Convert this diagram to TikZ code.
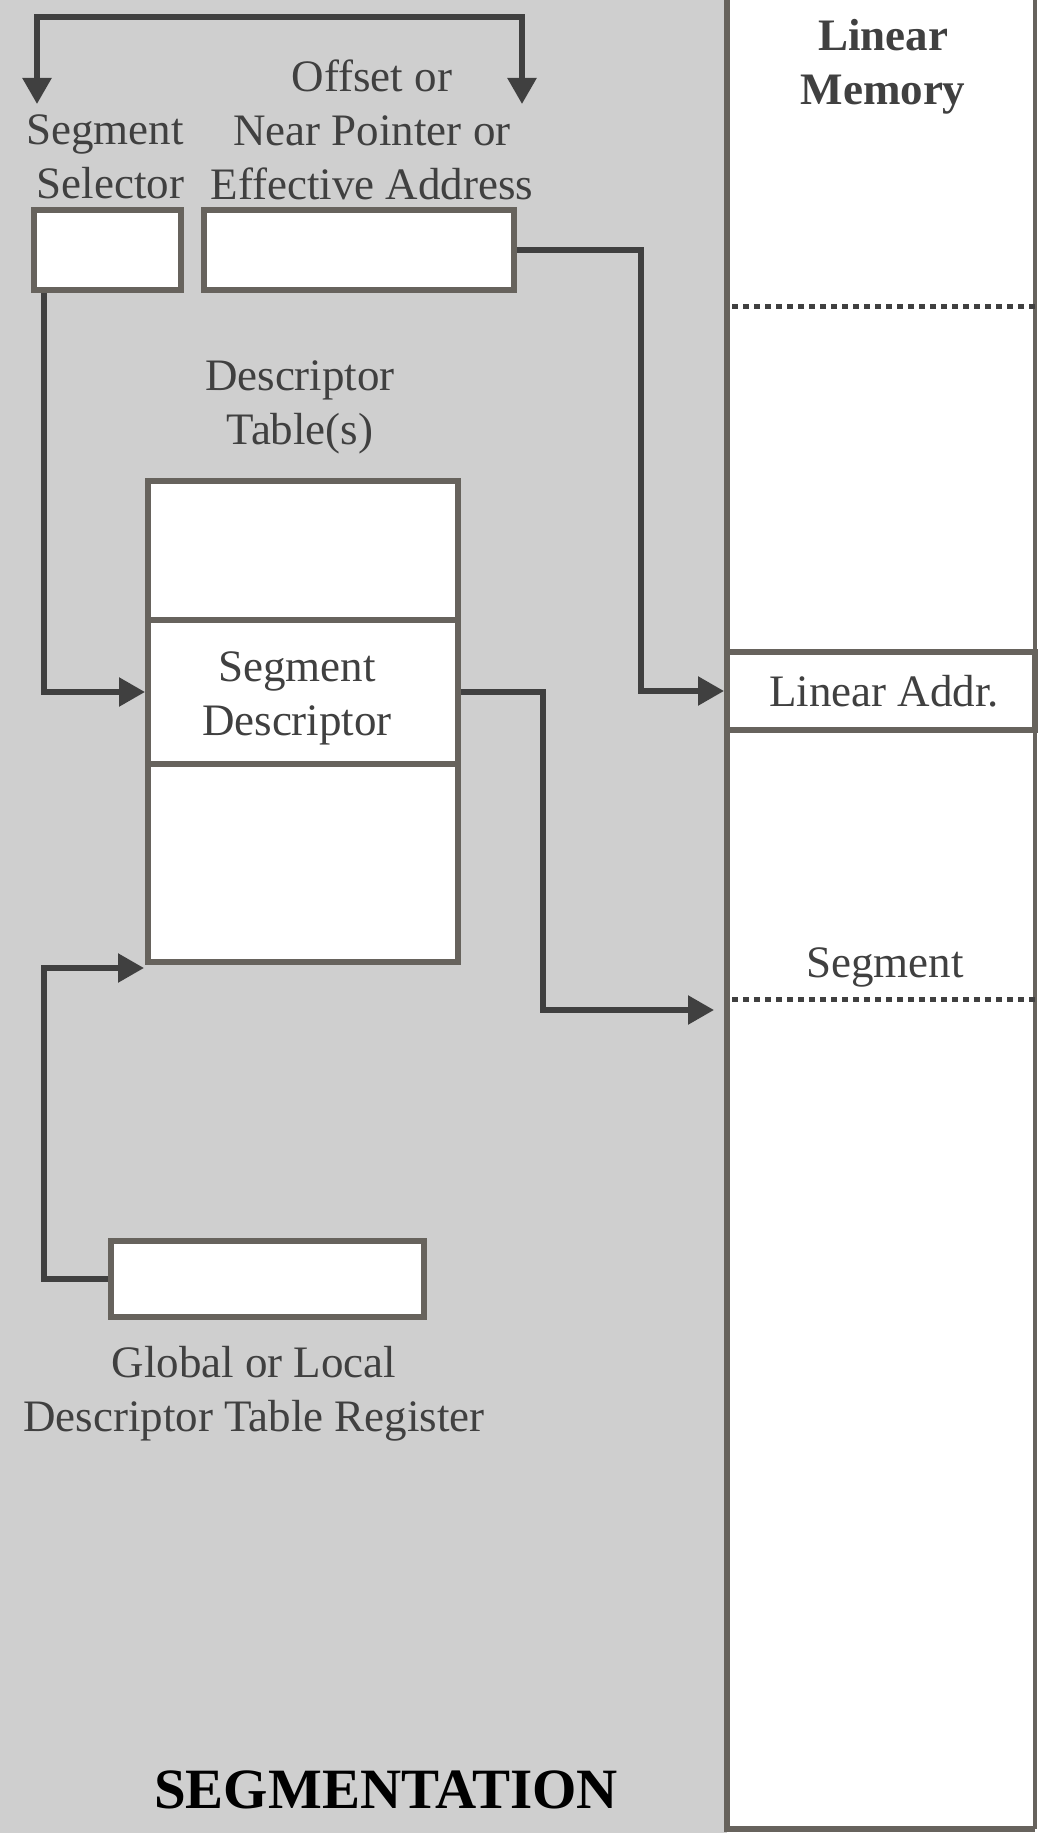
\documentclass[tikz,border=0pt]{standalone}
\usepackage{fontspec}
\setmainfont{Liberation Serif}
\usetikzlibrary{arrows.meta,positioning,calc}
\definecolor{bggray}{RGB}{207,207,207}
\definecolor{boxline}{RGB}{103,99,93}
\definecolor{conncol}{RGB}{64,64,64}
\definecolor{txtcol}{RGB}{64,64,64}
\tikzset{
  lbl/.style={text=txtcol, font=\fontsize{45}{54}\selectfont, align=center, inner sep=0pt},
  regbox/.style={draw=boxline, fill=white, line width=6pt, inner sep=0pt},
  tip/.tip={Triangle[width=28pt,length=26pt]},
  conn/.style={draw=conncol, line width=5.5pt, -tip},
  plainconn/.style={draw=conncol, line width=5.5pt},
  dotline/.style={draw=conncol, line width=5pt, dash pattern=on 6pt off 5pt}
}
\begin{document}
\begin{tikzpicture}[x=1pt,y=-1pt]
\useasboundingbox (0,0) rectangle (1040,1833);
% backgrounds
\fill[bggray] (0,0) rectangle (727,1833);
\fill[white] (727,0) rectangle (1040,1833);
\draw[boxline, line width=6pt] (727,-5) -- (727,1829) -- (1035,1829);
\draw[boxline, line width=3.5pt] (1035,-5) -- (1035,1829);
% dotted lines
\draw[dotline] (732,306) -- (1035,306);
\draw[dotline] (732,999) -- (1035,999);
% memory title
\node[lbl, font=\fontsize{45}{54}\selectfont\bfseries] (lm) at (883,67) {Linear\\Memory};
% linear addr box
\node[regbox, minimum width=308pt, minimum height=78pt, lbl, draw=boxline] (linaddr) at (881,691) {\hspace*{6pt}Linear Addr.};
\node[lbl] (seglbl) at (885,967) {Segment};
% selector / offset labels
\node[lbl] (sellbl) at (105,157) {Segment\\\ Selector};
\node[lbl] (offlbl) at (372,130) {Offset or\\Near Pointer or\\Effective Address};
% boxes
\node[regbox, minimum width=147pt, minimum height=80pt] (sel) at (107.5,250) {};
\node[regbox, minimum width=310pt, minimum height=80pt] (off) at (359,250) {};
% descriptor table
\node[lbl] (dtlbl) at (300,407) {Descriptor\\Table(s)};
\node[regbox, minimum width=310pt, minimum height=139pt] (tabtop) at (303,550.5) {};
\node[regbox, minimum width=310pt, minimum height=144pt] (tabdesc) at (303,692) {};
\node[lbl, xshift=-6pt, yshift=-6pt] (desctxt) at (tabdesc.center) {Segment\\Descriptor};
\node[regbox, minimum width=310pt, minimum height=198pt] (tabbot) at (303,863) {};
% GDTR
\node[regbox, minimum width=313pt, minimum height=76pt] (gdtr) at (267.5,1279) {};
\node[lbl] (gdtrlbl) at (254,1394) {Global or Local\\Descriptor Table Register};
% title
\node[inner sep=0pt, font=\fontsize{57}{60}\selectfont\bfseries] (title) at (386,1790) {SEGMENTATION};
% coordinates
\coordinate (ta) at (37,104);
\coordinate (tb) at (522,104);
\coordinate (xb) at (641,0);
\coordinate (xd) at (543,0);
\coordinate (segarr) at (714,1010);
\coordinate (xg) at (44,0);
\coordinate (tabin) at (144,968);
% connectors
\draw[plainconn, tip-tip] (ta) -- (37,17) -- (522,17) -- (tb);
\draw[conn] (sel.south -| xg) |- (tabdesc.west);
\draw[conn] (off.east) -- (off.east -| xb) |- (linaddr.west);
\draw[conn] (tabdesc.east) -- (tabdesc.east -| xd) |- (segarr);
\draw[conn] (gdtr.west) -- (gdtr.west -| xg) |- (tabin);
\end{tikzpicture}
\end{document}
